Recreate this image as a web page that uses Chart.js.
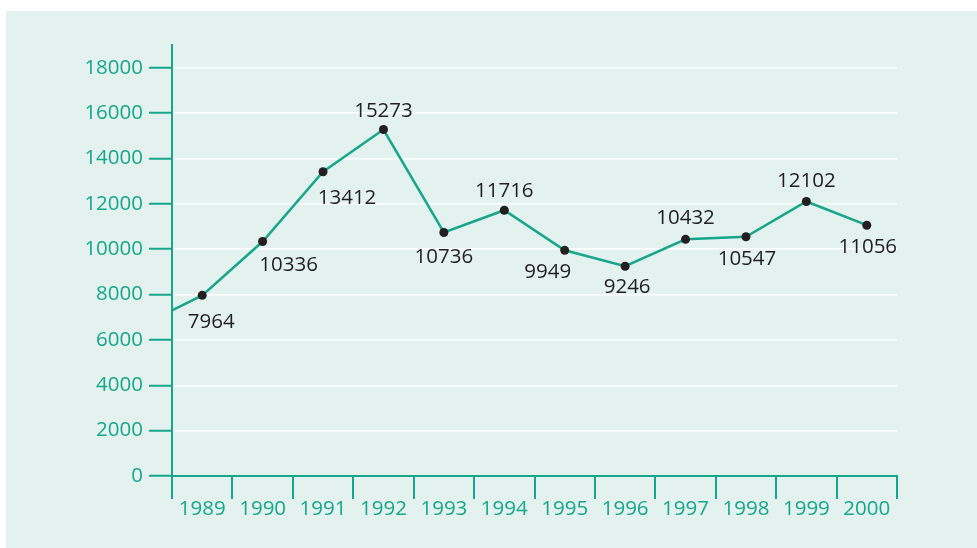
<!DOCTYPE html>
<html>
<head>
<meta charset="utf-8">
<script src="https://cdn.jsdelivr.net/npm/chart.js@4/dist/chart.umd.min.js"></script>
<style>
    html, body { margin: 0; padding: 0; background: #ffffff; }
    #panel {
        position: absolute;
        left: 6px;
        top: 11px;
        width: 971px;
        height: 537px;
        background: #e3f2ee;
    }
</style>
</head>
<body>
<div id="panel"><canvas id="chart" width="971" height="537"></canvas></div>
<script>
// Chart data
const years = ['1989', '1990', '1991', '1992', '1993', '1994', '1995', '1996', '1997', '1998', '1999', '2000'];
const values = [7964, 10336, 13412, 15273, 10736, 11716, 9949, 9246, 10432, 10547, 12102, 11056];
const leadInValue = 7300; // where the line enters at the y axis
const yTicks = [0, 2000, 4000, 6000, 8000, 10000, 12000, 14000, 16000, 18000];

const teal = '#17a68c';
const ink = '#231f20';

// label placement relative to each point [dx, dy]
const labelOffsets = [
    [9, 27], [26, 24], [24, 26], [0, -18], [0, 25], [0, -19],
    [-17, 22], [2, 21], [0, -21], [1, 22], [0, -20], [1, 22]
];

// line points on a hidden numeric axis so the line can start at the axis edge
const linePoints = [{ x: Number(years[0]) - 0.5, y: leadInValue }]
    .concat(years.map((yr, i) => ({ x: Number(yr), y: values[i] })));

const pointLabels = {
    id: 'pointLabels',
    afterDatasetsDraw(chart) {
        const ctx = chart.ctx;
        const meta = chart.getDatasetMeta(0);
        ctx.save();
        ctx.font = '20.5px "Open Sans"';
        ctx.fillStyle = ink;
        ctx.textAlign = 'center';
        ctx.textBaseline = 'middle';
        values.forEach((v, i) => {
            const pt = meta.data[i + 1];
            const off = labelOffsets[i];
            ctx.fillText(String(v), pt.x + off[0], pt.y + off[1]);
        });
        ctx.restore();
    }
};

new Chart(document.getElementById('chart'), {
    type: 'line',
    data: {
        labels: years,
        datasets: [{
            data: linePoints,
            xAxisID: 'x2',
            borderColor: teal,
            borderWidth: 2.5,
            tension: 0,
            pointRadius: linePoints.map((p, i) => i === 0 ? 0 : 4.5),
            pointBackgroundColor: ink,
            pointBorderColor: ink,
            pointBorderWidth: 0
        }]
    },
    options: {
        responsive: false,
        animation: false,
        layout: {
            padding: { top: 34, right: 80, left: 0, bottom: 0 }
        },
        scales: {
            x: {
                type: 'category',
                offset: true,
                grid: {
                    offset: true,
                    drawOnChartArea: false,
                    tickLength: 23,
                    tickColor: teal,
                    lineWidth: 2
                },
                border: { color: teal, width: 2 },
                ticks: {
                    color: teal,
                    padding: 0,
                    font: { family: 'Open Sans', size: 20.5, lineHeight: 1.0 }
                },
                afterFit(scale) { scale.height = 72; }
            },
            x2: {
                type: 'linear',
                display: false,
                min: Number(years[0]) - 0.5,
                max: Number(years[years.length - 1]) + 0.5
            },
            y: {
                min: 0,
                max: 19000,
                afterBuildTicks(scale) {
                    scale.ticks = yTicks.map(v => ({ value: v }));
                },
                grid: {
                    color: (c) => c.tick && c.tick.value === 0 ? 'rgba(0,0,0,0)' : '#ffffff',
                    lineWidth: 1.5,
                    tickLength: 23,
                    tickColor: teal,
                    tickWidth: 2
                },
                border: { color: teal, width: 2 },
                ticks: {
                    color: teal,
                    padding: 6,
                    font: { family: 'Open Sans', size: 20.5 },
                    callback: (v) => String(v)
                },
                afterFit(scale) { scale.width = 166; }
            }
        },
        plugins: {
            legend: { display: false },
            tooltip: { enabled: false }
        }
    },
    plugins: [pointLabels]
});
</script>
</body>
</html>
